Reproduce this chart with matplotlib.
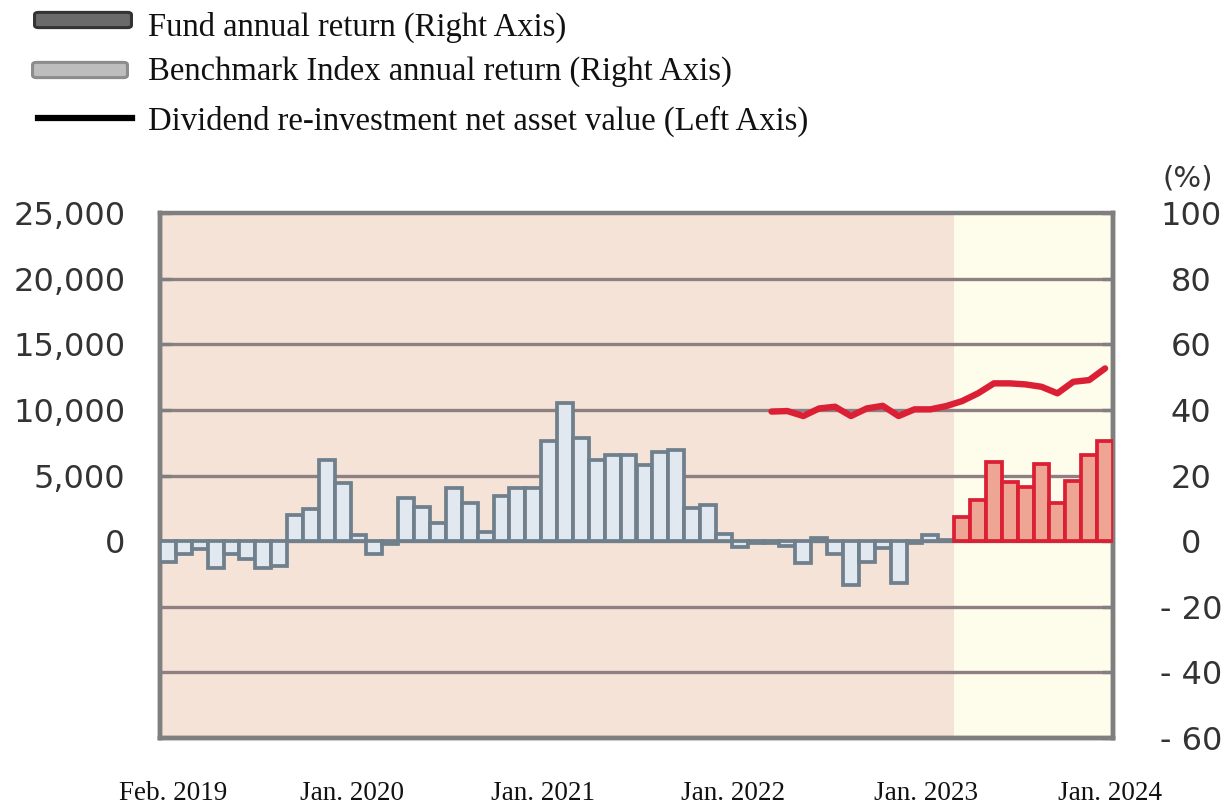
import matplotlib
matplotlib.use("Agg")
import matplotlib.pyplot as plt
from matplotlib.patches import FancyBboxPatch
from matplotlib.lines import Line2D
import numpy as np
import pandas as pd

# ---------------- data ----------------
months = pd.date_range("2019-02-01", periods=60, freq="MS")

# Benchmark annual return (%), Feb 2019 - Mar 2023
benchmark_return = [-6.3, -4.0, -2.3, -8.3, -4.0, -5.3, -8.3, -7.6, 7.9, 9.7,
                    24.7, 17.6, 2.0, -4.0, -0.8, 13.1, 10.4, 5.5, 16.1, 11.7,
                    2.7, 13.8, 16.1, 16.1, 30.6, 42.2, 31.4, 24.7, 26.2, 26.2,
                    23.2, 27.1, 27.7, 10.1, 11.0, 2.1, -1.7, -0.7, -0.7, -1.5,
                    -6.8, 0.9, -4.0, -13.5, -6.3, -2.2, -12.8, -0.5, 1.8, 0.2]
# Fund annual return (%), Apr 2023 - Jan 2024
fund_return = [7.4, 12.5, 24.2, 18.1, 16.6, 23.5, 11.7, 18.4, 26.2, 30.6]
# Dividend re-investment NAV, Apr 2022 - Jan 2024
nav = [9870, 9910, 9530, 10110, 10240, 9530, 10110, 10310, 9530, 10040, 10040,
       10290, 10670, 11260, 12020, 12020, 11940, 11760, 11260, 12140, 12270, 13160]

left_ticks = [0, 5000, 10000, 15000, 20000, 25000]
left_labels = ["0", "5,000", "10,000", "15,000", "20,000", "25,000"]
right_ticks = [-60, -40, -20, 0, 20, 40, 60, 80, 100]
right_labels = ["- 60", "- 40", "- 20", "0", "20", "40", "60", "80", "100"]
date_labels = ["Feb. 2019", "Jan. 2020", "Jan. 2021", "Jan. 2022", "Jan. 2023", "Jan. 2024"]
legend_labels = ["Fund annual return (Right Axis)",
                 "Benchmark Index annual return (Right Axis)",
                 "Dividend re-investment net asset value (Left Axis)"]

# ---------------- layout ----------------
W, H = 1231, 805
fig = plt.figure(figsize=(W / 100, H / 100), dpi=100)
L, R, T, B = 160, 1113, 213, 738
ax = fig.add_axes([L / W, 1 - B / H, (R - L) / W, (B - T) / H])
ax2 = ax.twinx()

n = len(months)
x = np.arange(n)
n_bench = len(benchmark_return)
x_bench = x[:n_bench]
x_fund = x[n_bench:n_bench + len(fund_return)]
x_nav = x[n - len(nav):]

SALMON = "#F5E3D8"
YELLOW = "#FEFCEB"
GRID = "#8E7F82"
FRAME = "#7F7F7F"
GRAY_FACE = "#E1E8EF"
GRAY_EDGE = "#6F808C"
RED_FACE = "#EFA594"
RED_EDGE = "#DB1F35"

ax.set_xlim(-0.5, n - 0.5)
ax.set_ylim(-15000, 25000)
ax2.set_ylim(-60, 100)

ax.axvspan(-0.5, n_bench - 0.5, color=SALMON, zorder=0, lw=0)
ax.axvspan(n_bench - 0.5, n - 0.5, color=YELLOW, zorder=0, lw=0)

# gridlines (drawn on left axis at positions matching right-axis ticks)
for yv in range(-10000, 25000, 5000):
    ax.axhline(yv, color=GRID, lw=2.4, zorder=1)

# NAV line
ax.plot(x_nav, nav, color=RED_EDGE, lw=4.6, zorder=5, solid_capstyle="round",
        solid_joinstyle="round")

# bars on the right axis
ax2.bar(x_bench, benchmark_return, width=1.0, color=GRAY_FACE,
        edgecolor=GRAY_EDGE, linewidth=2.7, zorder=3)
ax2.bar(x_fund, fund_return, width=1.0, color=RED_FACE,
        edgecolor=RED_EDGE, linewidth=2.7, zorder=3)

# spines
for a in (ax, ax2):
    for s in a.spines.values():
        s.set_color(FRAME)
        s.set_linewidth(3.2)
    a.spines["top"].set_visible(False)
ax.spines["top"].set_visible(True)

# left axis ticks
ax.set_yticks(left_ticks)
ax.set_yticklabels(left_labels)
ax.tick_params(axis="y", direction="in", length=8, width=2.4, color=FRAME,
               labelsize=23, labelcolor="#333333", pad=25)

# right axis ticks
ax2.set_yticks(right_ticks)
ax2.set_yticklabels(right_labels)
ax2.tick_params(axis="y", direction="in", length=8, width=2.4, color=FRAME,
                labelsize=23, labelcolor="#333333", pad=56)
for lab in ax2.get_yticklabels():
    lab.set_horizontalalignment("center")

# x ticks: inward marks at year boundaries, labels separately
year_bounds = [11.5, 23.5, 35.5, 47.5]
ax.set_xticks(year_bounds)
ax.set_xticklabels([])
ax.tick_params(axis="x", direction="in", length=14, width=2.4, color=FRAME)
ax2.set_xticks([])
label_pos = [0.32, 11.6, 23.6, 35.6, 47.7, 59.3]
for xp, t in zip(label_pos, date_labels):
    ax.text(xp, -0.105, t, transform=ax.get_xaxis_transform(), ha="center",
            va="center", fontsize=19.5, family="Liberation Serif", color="#111111")

fig.text(1188 / W, 1 - 178 / H, "(%)", ha="center", va="center", fontsize=21,
         color="#333333")

# legend drawn manually
def fx(px):
    return px / W

def fy(py):
    return 1 - py / H

h1 = FancyBboxPatch((fx(37), fy(26)), fx(92), 12 / H,
                    boxstyle="round,pad=0.002,rounding_size=0.003",
                    facecolor="#6A6A6A", edgecolor="#333333", lw=2.2,
                    transform=fig.transFigure)
h2 = FancyBboxPatch((fx(35), fy(76)), fx(90), 12 / H,
                    boxstyle="round,pad=0.002,rounding_size=0.003",
                    facecolor="#BDBDBD", edgecolor="#8C8C8C", lw=2.2,
                    transform=fig.transFigure)
fig.add_artist(h1)
fig.add_artist(h2)
fig.add_artist(Line2D([fx(38), fx(132)], [fy(118), fy(118)], color="black",
                      lw=4.5, transform=fig.transFigure))
for yy, t in zip([27, 71, 121], legend_labels):
    fig.text(fx(148), fy(yy), t, ha="left", va="center", fontsize=23.5,
             family="Liberation Serif", color="#111111")

fig.savefig("out.png", dpi=100)
